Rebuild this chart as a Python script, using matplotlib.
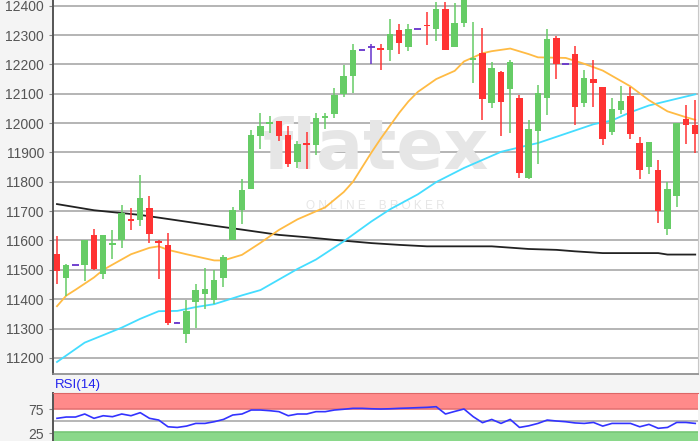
import numpy as np
import matplotlib.pyplot as plt

plt.rcParams['font.family'] = ['Liberation Sans', 'DejaVu Sans']

# daily candles (oldest first)
opens = [11555, 11471, 11517, 11515, 11619, 11486, 11586, 11600, 11672, 11670,
         11712, 11597, 11585, 11320, 11280, 11390, 11418, 11397, 11472, 11602,
         11703, 11777, 11955, 11996, 12007, 11959, 11868, 11932, 11924, 12018,
         12030, 12099, 12160, 12249, 12260, 12255, 12249, 12317, 12260, 12320,
         12334, 12319, 12389, 12260, 12342, 12214, 12238, 12067, 12174, 12117,
         12086, 11814, 11973, 12084, 12291, 12202, 12236, 12068, 12151, 12123,
         11969, 12043, 12091, 11932, 11852, 11839, 11640, 11753, 12015, 11992]
highs = [11616, 11520, 11518, 11602, 11638, 11619, 11636, 11721, 11710, 11823,
         11752, 11600, 11625, 11321, 11397, 11450, 11506, 11498, 11551, 11714,
         11811, 11976, 12033, 12023, 12008, 11989, 11939, 11968, 12035, 12033,
         12118, 12197, 12269, 12250, 12268, 12268, 12353, 12336, 12336, 12321,
         12380, 12414, 12414, 12408, 12440, 12343, 12323, 12207, 12179, 12216,
         12097, 12009, 12131, 12320, 12296, 12203, 12262, 12182, 12214, 12123,
         12086, 12126, 12123, 11952, 11935, 11873, 11799, 12000, 12060, 12077]
lows = [11450, 11410, 11516, 11461, 11498, 11469, 11538, 11574, 11636, 11650,
        11591, 11469, 11311, 11319, 11252, 11303, 11367, 11382, 11442, 11600,
        11657, 11777, 11913, 11967, 11939, 11850, 11847, 11845, 11890, 11981,
        12019, 12089, 12101, 12248, 12201, 12180, 12212, 12235, 12246, 12319,
        12266, 12281, 12249, 12260, 12326, 12135, 12012, 12050, 11956, 11966,
        11812, 11811, 11862, 12027, 12150, 12201, 11994, 12055, 12055, 11924,
        11958, 12032, 11947, 11810, 11827, 11659, 11620, 11714, 11930, 11898]
closes = [11495, 11517, 11517, 11600, 11503, 11619, 11590, 11693, 11666, 11744,
          11623, 11590, 11318, 11320, 11359, 11431, 11435, 11467, 11543, 11705,
          11771, 11959, 11989, 12004, 11955, 11860, 11928, 11927, 12019, 12023,
          12097, 12160, 12249, 12249, 12260, 12248, 12302, 12274, 12320, 12320,
          12330, 12389, 12249, 12340, 12430, 12222, 12081, 12188, 12071, 12208,
          11829, 11981, 12104, 12286, 12200, 12202, 12056, 12153, 12136, 11947,
          12047, 12074, 11964, 11841, 11935, 11702, 11776, 12000, 11995, 11964]

# moving averages (day index, value)
ma20_idx = [0, 1, 2, 4, 5, 8, 10, 11, 12, 14, 17, 18, 20, 22, 24, 26, 29, 31, 32, 33,
            34, 35, 37, 38, 39, 41, 43, 44, 46, 47, 49, 51, 52, 55, 57, 59, 62, 64, 66, 68, 69]
ma20_val = [11376, 11412, 11432, 11474, 11500, 11553, 11575, 11580, 11568, 11553,
            11532, 11532, 11551, 11592, 11636, 11672, 11713, 11765, 11800, 11850,
            11900, 11947, 12035, 12074, 12106, 12150, 12178, 12210, 12238, 12245,
            12254, 12235, 12224, 12222, 12202, 12179, 12125, 12078, 12040, 12020, 12011]
ma50_idx = [0, 3, 7, 9, 11, 13, 15, 17, 19, 20, 22, 26, 28, 31, 34, 36, 39, 41, 44,
            48, 51, 52, 55, 58, 60, 62, 64, 67, 69]
ma50_val = [11186, 11252, 11303, 11333, 11359, 11360, 11373, 11383, 11403, 11413,
            11431, 11503, 11535, 11597, 11665, 11706, 11757, 11799, 11847, 11902,
            11925, 11932, 11964, 11996, 12009, 12037, 12060, 12083, 12098]
ma200_idx = [0, 4, 9, 14, 17, 20, 24, 27, 30, 34, 37, 40, 45, 47, 51, 54, 56, 59, 65, 66, 69]
ma200_val = [11724, 11703, 11687, 11664, 11650, 11637, 11619, 11611, 11602, 11591,
             11585, 11580, 11580, 11580, 11571, 11568, 11563, 11557, 11557, 11552, 11552]

rsi = [55.6, 58.3, 58.3, 64.6, 55.6, 61, 59, 64.6, 61, 67.4,
       55.6, 52, 38, 36.6, 39.4, 45, 45, 48.5, 53.3, 62.5,
       64.6, 72.9, 72.9, 71.5, 69.5, 61, 64.6, 64.6, 69.5, 69.5,
       72.9, 74.5, 76.4, 76.4, 75.5, 75, 75.5, 76.4, 77, 77.8,
       78.5, 79.8, 64.6, 70, 75, 59, 46.5, 53.3, 45, 53.3,
       36.6, 40, 45, 52, 50, 48.5, 46, 45, 47, 39.4,
       45, 45, 45, 38, 43, 34.8, 36.6, 47, 47, 45]

price_ticks = list(range(11200, 12401, 100))

GREEN = '#66cc66'
RED = '#ff3333'
PURPLE = '#6633cc'

fig = plt.figure(figsize=(7, 4.41), dpi=100, facecolor='#f4f4f4')
W, H = 700, 441
ax = fig.add_axes([53 / W, 1 - 374 / H, 645 / W, 374 / H])
ax.set_facecolor('white')

x = np.arange(len(opens))
o = np.array(opens)
c = np.array(closes)
cols = [GREEN if cc > oo else RED if cc < oo else PURPLE for oo, cc in zip(o, c)]

ax.vlines(x, lows, highs, colors=cols, lw=1.1, zorder=3)
body = np.abs(c - o)
ax.bar(x, np.where(body == 0, 1e-9, body), bottom=np.minimum(o, c), width=0.7,
       color=cols, zorder=4, linewidth=0)
doji = body == 0
ax.hlines(c[doji], x[doji] - 0.35, x[doji] + 0.35, colors=PURPLE, lw=1.3, zorder=4)

ax.plot(ma200_idx, ma200_val, color='#222222', lw=1.3, zorder=2)
ax.plot(ma50_idx, ma50_val, color='#44ddff', lw=1.3, zorder=2)
ax.plot(ma20_idx, ma20_val, color='#ffbb44', lw=1.3, zorder=2)

# watermark
ax.text(0.5, 0.6, 'flatex', transform=ax.transAxes, fontsize=50, color='#e6e6e6',
        ha='center', va='center', family='DejaVu Sans', fontweight='bold', zorder=1)
ax.text(0.5, 0.45, 'O N L I N E    B R O K E R', transform=ax.transAxes, fontsize=8.5,
        color='#e6e6e6', ha='center', va='center', zorder=1)

ax.set_xlim(-0.43, 69.3)
ax.set_ylim(11145, 12419.4)
ax.set_yticks(price_ticks)
ax.set_xticks([])
ax.yaxis.grid(True, color='#a8a8a8', lw=1.2)
ax.set_axisbelow(True)
ax.tick_params(axis='y', labelsize=10, labelcolor='#555555', color='#888888', length=3)
ax.spines['left'].set_color('#555555')
ax.spines['left'].set_linewidth(1.4)
ax.spines['bottom'].set_color('#888888')
ax.spines['bottom'].set_linewidth(1.2)
ax.spines['right'].set_color('#c8c8c8')
ax.spines['top'].set_visible(False)

# RSI panel (bottom part falls outside the image, as in the source)
ar = fig.add_axes([53 / W, 1 - 445 / H, 645 / W, (445 - 392.7) / H])
ar.set_facecolor('white')
ar.axhspan(75, 109, color='#ff8a8a', lw=0, zorder=1)
ar.axhline(75, color='#e57373', lw=1.2, zorder=1)
ar.axhspan(0, 27, color='#8ad88a', lw=0, zorder=1)
ar.axhline(27, color='#77c777', lw=1.2, zorder=1)
ar.axhline(50, color='#aaaaaa', lw=1.2, zorder=1)
ar.plot(x, rsi, color='#3333ff', lw=1.2, zorder=3)
ar.set_xlim(-0.43, 69.3)
ar.set_ylim(0, 109)
ar.set_yticks([25, 75])
ar.set_xticks([])
ar.tick_params(axis='y', labelsize=10, labelcolor='#555555', color='#888888', length=3)
ar.spines['left'].set_color('#555555')
ar.spines['left'].set_linewidth(1.4)
ar.spines['top'].set_color('#d66')
ar.spines['right'].set_visible(False)
ar.spines['bottom'].set_visible(False)
fig.text(55 / W, 1 - 385 / H, 'RSI(14)', color='#2222ee', fontsize=9.5, va='center', ha='left')

fig.savefig('out.png', dpi=100, facecolor=fig.get_facecolor())
